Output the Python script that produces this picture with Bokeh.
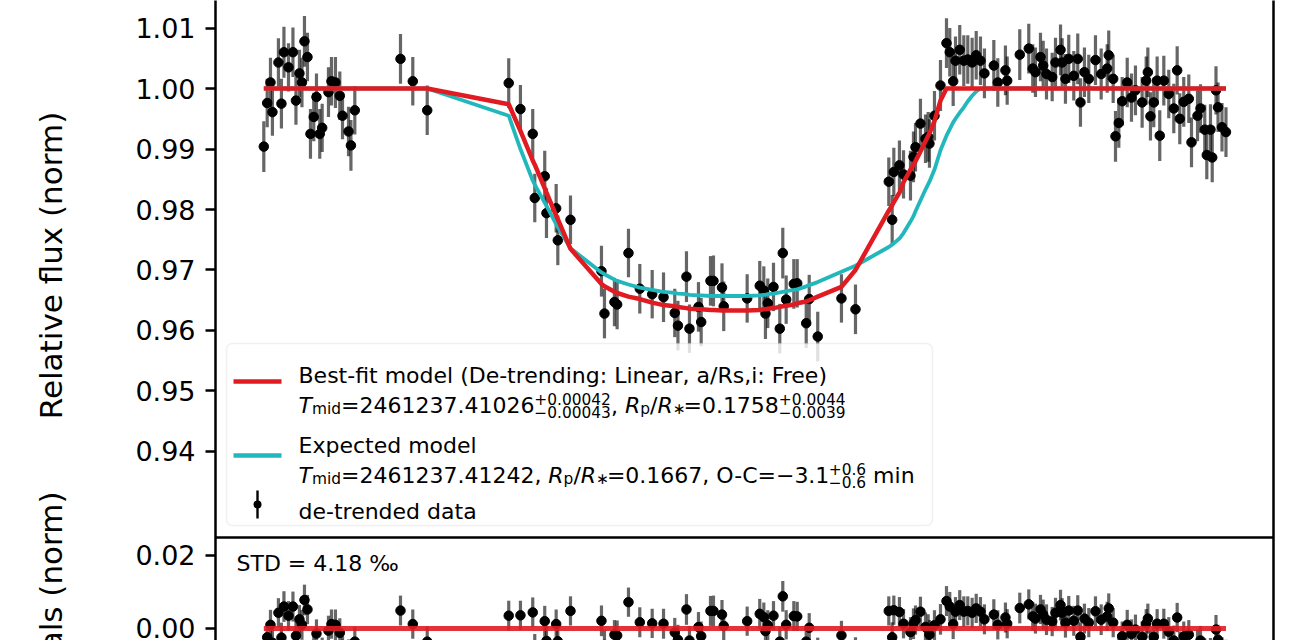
import numpy as np
from bokeh.plotting import figure
from bokeh.layouts import row
from bokeh.models import Range1d, LinearAxis, FixedTicker, Span, Label, BoxAnnotation
from bokeh.core.properties import value
from bokeh.embed import file_html
from bokeh.resources import INLINE

# ---------------- data (time in minutes from best-fit mid-transit) ----------------
time_pre = [-47.07, -46.72, -46.38, -46.18, -45.56, -45.25, -44.99, -44.52, -44.06, -43.75,
            -43.39, -43.13, -42.87, -42.56, -42.25, -41.91, -41.63, -41.29, -41.04, -40.39,
            -40.08, -39.67, -39.22, -38.94, -38.32, -38.07, -37.67, -32.95, -31.68, -30.19]
flux_pre = [0.9904, 0.9976, 1.0010, 0.9961, 1.0043, 0.9975, 1.0060, 1.0035, 1.0060, 0.9980,
            1.0025, 1.0010, 1.0078, 1.0052, 0.9925, 0.9953, 0.9986, 0.9925, 0.9935, 0.9994,
            1.0012, 1.0010, 0.9988, 0.9955, 0.9929, 0.9906, 0.9964, 1.0049, 1.0012, 0.9964]
err_pre = [0.0042, 0.0040, 0.0041, 0.0039, 0.0040, 0.0041, 0.0042, 0.0040, 0.0041, 0.0040,
           0.0039, 0.0041, 0.0042, 0.0040, 0.0041, 0.0040, 0.0039, 0.0041, 0.0040, 0.0041,
           0.0040, 0.0042, 0.0040, 0.0039, 0.0041, 0.0042, 0.0040, 0.0041, 0.0040, 0.0041]

time_tr = [-21.77, -20.56, -19.29, -19.08, -18.05, -17.87, -16.87, -16.70, -15.39, -12.19,
           -11.88, -10.85, -10.57, -9.40, -8.23, -6.95, -5.78, -4.62, -4.29, -3.41,
           -3.10, -2.17, -1.89, -0.93, -0.62, 0.26, 0.44, 2.86, 4.16, 4.58,
           4.75, 4.99, 5.58, 6.23, 6.54, 6.89, 7.68, 8.03, 8.96, 9.27,
           10.15, 12.60, 14.05]
flux_tr = [1.0009, 0.9966, 0.9925, 0.9819, 0.9855, 0.9794, 0.9802, 0.9749, 0.9783, 0.9698,
           0.9628, 0.9647, 0.9643, 0.9728, 0.9669, 0.9660, 0.9655, 0.9629, 0.9608, 0.9689,
           0.9603, 0.9639, 0.9614, 0.9682, 0.9682, 0.9671, 0.9640, 0.9653, 0.9674, 0.9666,
           0.9628, 0.9645, 0.9672, 0.9603, 0.9728, 0.9651, 0.9677, 0.9678, 0.9612, 0.9652,
           0.9590, 0.9653, 0.9635]
err_tr = [0.0041, 0.0040, 0.0041, 0.0040, 0.0042, 0.0041, 0.0040, 0.0041, 0.0040, 0.0042,
          0.0041, 0.0040, 0.0041, 0.0040, 0.0041, 0.0040, 0.0041, 0.0040, 0.0041, 0.0042,
          0.0040, 0.0041, 0.0040, 0.0041, 0.0042, 0.0040, 0.0041, 0.0040, 0.0041, 0.0040,
          0.0042, 0.0041, 0.0040, 0.0041, 0.0042, 0.0040, 0.0041, 0.0040, 0.0041, 0.0040,
          0.0041, 0.0040, 0.0041]
fit_tr = [0.9974, 0.9930, 0.9881, 0.9874, 0.9835, 0.9828, 0.9790, 0.9784, 0.9735, 0.9677,
          0.9673, 0.9664, 0.9662, 0.9656, 0.9652, 0.9646, 0.9642, 0.9640, 0.9639, 0.9637,
          0.9636, 0.9635, 0.9635, 0.9634, 0.9634, 0.9633, 0.9633, 0.9633, 0.9634, 0.9635,
          0.9635, 0.9636, 0.9637, 0.9639, 0.9640, 0.9641, 0.9643, 0.9645, 0.9648, 0.9650,
          0.9656, 0.9672, 0.9700]
exp_tr = [0.9955, 0.9900, 0.9848, 0.9841, 0.9811, 0.9806, 0.9776, 0.9771, 0.9736, 0.9696,
          0.9693, 0.9684, 0.9682, 0.9676, 0.9671, 0.9667, 0.9664, 0.9662, 0.9661, 0.9660,
          0.9659, 0.9658, 0.9658, 0.9657, 0.9657, 0.9657, 0.9657, 0.9657, 0.9658, 0.9659,
          0.9659, 0.9660, 0.9661, 0.9663, 0.9664, 0.9665, 0.9667, 0.9668, 0.9673, 0.9675,
          0.9680, 0.9697, 0.9707]

time_eg = [17.49, 17.84, 18.01, 18.59, 19.01, 19.73, 20.04, 20.25, 20.76, 21.28, 21.56, 21.69, 22.21, 22.83]
flux_eg = [0.9846, 0.9783, 0.9862, 0.9873, 0.9858, 0.9856, 0.9887, 0.9903, 0.9942, 0.9917, 0.9920, 0.9909, 0.9955, 1.0005]
err_eg = [0.0040, 0.0041, 0.0040, 0.0041, 0.0040, 0.0041, 0.0042, 0.0040, 0.0041, 0.0040, 0.0041, 0.0040, 0.0041, 0.0042]
fit_eg = [0.9798, 0.9807, 0.9812, 0.9828, 0.9845, 0.9866, 0.9874, 0.9880, 0.9896, 0.9913, 0.9922, 0.9926, 0.9946, 0.9980]
exp_eg = [0.9738, 0.9742, 0.9744, 0.9752, 0.9761, 0.9780, 0.9789, 0.9797, 0.9815, 0.9833, 0.9842, 0.9846, 0.9866, 0.9898]

time_po = [23.45, 23.79, 24.14, 24.38, 24.82, 25.24, 25.65, 26.10, 26.52]
flux_po = [1.0075, 1.0060, 1.0012, 1.0046, 1.0064, 1.0046, 1.0048, 1.0043, 1.0055]
err_po = [0.0041, 0.0040, 0.0041, 0.0040, 0.0041, 0.0042, 0.0040, 0.0041, 0.0040]
exp_po = [0.9922, 0.9933, 0.9944, 0.9950, 0.9960, 0.9969, 0.9979, 0.9988, 0.9995]

time_out = [26.96, 27.37, 28.34, 28.75, 29.54, 29.72, 31.02, 31.95, 32.36, 32.64,
            33.16, 33.44, 33.78, 34.37, 34.71, 35.23, 35.40, 35.74, 36.08, 36.60,
            37.01, 37.29, 37.70, 38.15, 38.84, 39.43, 40.05, 40.21, 40.67, 40.91,
            41.25, 41.60, 42.12, 42.56, 42.97, 43.66, 44.08, 44.25, 44.52, 44.86,
            45.21, 45.48, 45.90, 46.41, 46.93, 47.28, 47.55, 47.96, 48.48, 48.76,
            49.38, 49.69, 50.13, 50.34, 50.72, 50.90, 51.29, 51.50, 51.91, 52.32]
flux_out = [1.0046, 1.0025, 1.0038, 1.0010, 1.0030, 1.0013, 1.0056, 1.0066, 1.0033, 1.0027,
            1.0052, 1.0038, 1.0024, 1.0019, 1.0043, 1.0064, 1.0043, 1.0016, 1.0049, 1.0021,
            1.0049, 0.9977, 1.0027, 1.0016, 1.0047, 1.0024, 1.0033, 1.0055, 1.0016, 0.9921,
            0.9943, 0.9979, 1.0010, 0.9985, 0.9997, 0.9977, 1.0013, 1.0027, 0.9954, 0.9977,
            1.0013, 0.9922, 1.0013, 0.9991, 0.9967, 1.0030, 0.9950, 0.9978, 0.9983, 0.9911,
            0.9955, 0.9967, 0.9932, 0.9890, 0.9932, 0.9886, 0.9997, 0.9969, 0.9936, 0.9928]
err_out = [0.0040, 0.0041, 0.0042, 0.0040, 0.0041, 0.0040, 0.0042, 0.0041, 0.0040, 0.0041,
           0.0040, 0.0041, 0.0042, 0.0040, 0.0041, 0.0042, 0.0040, 0.0041, 0.0040, 0.0041,
           0.0042, 0.0040, 0.0041, 0.0040, 0.0041, 0.0042, 0.0040, 0.0041, 0.0040, 0.0042,
           0.0041, 0.0040, 0.0041, 0.0040, 0.0041, 0.0042, 0.0040, 0.0041, 0.0040, 0.0041,
           0.0040, 0.0042, 0.0041, 0.0040, 0.0041, 0.0040, 0.0042, 0.0041, 0.0040, 0.0041,
           0.0042, 0.0040, 0.0041, 0.0040, 0.0042, 0.0041, 0.0040, 0.0041, 0.0040, 0.0041]

flux_ticks = [0.94, 0.95, 0.96, 0.97, 0.98, 0.99, 1.00, 1.01]
resid_ticks = [0.00, 0.02]
x_lim = (-52.06, 57.23)
flux_lim = (0.92578, 1.01455)     # flux at bottom / top of upper panel
resid_lim = (-0.00329, 0.0249)    # residual at bottom of window / top of lower panel

# ---------------- assemble ----------------
time_min = np.array(time_pre + time_tr + time_eg + time_po + time_out)
flux = np.array(flux_pre + flux_tr + flux_eg + flux_po + flux_out)
flux_err = np.array(err_pre + err_tr + err_eg + err_po + err_out)
fit_model = np.array([1.0] * len(time_pre) + fit_tr + fit_eg + [1.0] * (len(time_po) + len(time_out)))
exp_model = np.array([1.0] * len(time_pre) + exp_tr + exp_eg + exp_po + [1.0] * len(time_out))
resid = flux - fit_model

# ---------------- layout ----------------
W, H = 1300, 640
WL = 100               # width of the strip that carries the rotated axis titles
FL, FR = 215, 1273     # frame edges in window pixels
SPLIT = 537
RED = "#e01c22"
CYAN = "#22b8bb"
FONT = "DejaVu Sans"

me = flux_lim[1]
ms = me - (flux_lim[1] - flux_lim[0]) * H / SPLIT
rs = resid_lim[0]
re_ = rs + (resid_lim[1] - resid_lim[0]) * H / (H - SPLIT)


def to_main(r):
    return ms + (r - rs) / (re_ - rs) * (me - ms)


p = figure(width=W - WL, height=H, x_range=Range1d(*x_lim), y_range=Range1d(ms, me),
           x_axis_type=None, y_axis_type=None, output_backend="svg", toolbar_location=None,
           min_border_left=FL - WL, min_border_right=W - FR, min_border_top=0, min_border_bottom=0)
p.outline_line_color = None
p.background_fill_color = "white"
p.border_fill_color = "white"
p.extra_y_ranges = {"res": Range1d(rs, re_)}

ticks = flux_ticks + [to_main(r) for r in resid_ticks]
labels = {t: f"{t:.2f}" for t in flux_ticks}
labels.update({to_main(r): f"{r:.2f}" for r in resid_ticks})
ax = LinearAxis(ticker=FixedTicker(ticks=ticks), major_label_overrides=labels)
ax.axis_line_width = 2.5
ax.axis_line_color = "black"
ax.major_tick_line_width = 2.5
ax.major_tick_line_color = "black"
ax.major_tick_out = 10
ax.major_tick_in = 0
ax.minor_tick_out = 0
ax.minor_tick_in = 0
ax.major_label_text_font = FONT
ax.major_label_text_font_size = "27px"
ax.major_label_text_color = "black"
ax.major_label_standoff = 10
p.add_layout(ax, "left")

ax_r = LinearAxis(ticker=FixedTicker(ticks=[]))
ax_r.axis_line_width = 2.5
ax_r.axis_line_color = "black"
ax_r.major_tick_out = 0
ax_r.minor_tick_out = 0
ax_r.major_label_text_font_size = "0px"
p.add_layout(ax_r, "right")

p.add_layout(Span(location=flux_lim[0], dimension="width", line_color="black", line_width=2.5))

# upper panel
p.segment(x0=time_min, y0=flux - flux_err, x1=time_min, y1=flux + flux_err,
          line_color="black", line_alpha=0.6, line_width=3.2)
p.scatter(time_min, flux, size=9.5, color="black")
p.line(time_min, exp_model, line_color=CYAN, line_width=3.8)
p.line(time_min, fit_model, line_color=RED, line_width=4.5)

# lower panel
p.segment(x0=time_min, y0=resid - flux_err, x1=time_min, y1=resid + flux_err,
          line_color="black", line_alpha=0.6, line_width=3.2, y_range_name="res")
p.scatter(time_min, resid, size=9.5, color="black", y_range_name="res")
p.line(time_min, np.zeros(len(time_min)), line_color=RED, line_width=5, line_alpha=0.9,
       y_range_name="res")


# ---------------- annotations ----------------
def sx(cx):
    return cx - FL


def sy(cy):
    return H - cy


def txt(cx, cy, s, size, italic=False):
    lead = len(s) - len(s.lstrip(" "))
    cx += lead * 0.318 * size
    p.add_layout(Label(x=sx(cx), y=sy(cy), x_units="screen", y_units="screen", text=s.strip(" "),
                       text_font=FONT, text_font_size=f"{size}px", text_color="black",
                       text_align="left", text_baseline="alphabetic",
                       text_font_style="italic" if italic else "normal"))


EM = {".": 0.318, ",": 0.318, " ": 0.318, "=": 0.838, "+": 0.838, "\u2212": 0.838, "-": 0.361,
      "/": 0.337, "T": 0.611, "R": 0.695, "O": 0.787, "C": 0.698, "m": 0.974, "i": 0.278,
      "d": 0.635, "p": 0.635, "n": 0.634, "\u2217": 0.7}


def width(s, size):
    return sum(EM.get(ch, 0.636) for ch in s) * size


F, S = 22, 15.4


def math_line(x, base, parts):
    for kind, payload in parts:
        if kind == "n":
            txt(x, base, payload, F)
            x += width(payload, F)
        elif kind == "i":
            txt(x, base, payload, F, italic=True)
            x += width(payload, F)
        elif kind == "sub":
            txt(x, base + 3, payload, S)
            x += width(payload, S)
        else:
            sup, sub = payload
            txt(x, base - 7, sup, S)
            txt(x, base + 6, sub, S)
            x += max(width(sup, S), width(sub, S))


def screen_box(l, r, t, b, **kw):
    p.add_layout(BoxAnnotation(left=sx(l), right=sx(r), top=sy(t), bottom=sy(b),
                               left_units="screen", right_units="screen", top_units="screen",
                               bottom_units="screen", **kw))


# legend frame and handles
screen_box(226, 932, 343, 525, fill_color="white", fill_alpha=0.8,
           line_color="#cccccc", line_width=1.5, border_radius=6)
for yc, col in ((381, RED), (455, CYAN)):
    screen_box(233, 281, yc - 2.2, yc + 2.2, fill_color=col, fill_alpha=1.0, line_color=None)
screen_box(255.8, 258.2, 490, 518, fill_color="black", fill_alpha=1.0, line_color=None)
screen_box(253, 261, 500, 508, fill_color="black", fill_alpha=1.0, line_color=None,
           border_radius=4)

txt(298, 375, "Best-fit model (De-trending: Linear, a/Rs,i: Free)", F)
math_line(298, 405, [("i", "T"), ("sub", "mid"), ("n", "=2461237.41026"),
                     ("ss", ("+0.00042", "\u22120.00043")), ("n", ", "), ("i", "R"), ("sub", "p"),
                     ("n", "/"), ("i", "R"), ("sub", "\u2217"), ("n", "=0.1758"),
                     ("ss", ("+0.0044", "\u22120.0039"))])
txt(298, 445, "Expected model", F)
math_line(298, 475, [("i", "T"), ("sub", "mid"), ("n", "=2461237.41242, "), ("i", "R"), ("sub", "p"),
                     ("n", "/"), ("i", "R"), ("sub", "\u2217"), ("n", "=0.1667, O-C=\u22123.1"),
                     ("ss", ("+0.6", "\u22120.6")), ("n", " min")])
txt(298, 511, "de-trended data", F)

txt(236, 563, "STD = 4.18 \u2030", 22)

# ---------------- strip with rotated axis titles ----------------
lab = figure(width=WL, height=H, x_range=Range1d(0, WL), y_range=Range1d(0, H),
             x_axis_type=None, y_axis_type=None, output_backend="svg", toolbar_location=None,
             min_border_left=0, min_border_right=0, min_border_top=0, min_border_bottom=0)
lab.outline_line_color = None
lab.background_fill_color = "white"
lab.border_fill_color = "white"
axis_titles = ["Relative flux (norm)", "Residuals (norm)"]
title_x = [50, 50]
title_y = [H - 265, H - 622]
lab.text(x=title_x, y=title_y, text=axis_titles, angle=np.pi / 2, text_align="center",
         text_baseline="middle", text_font=value(FONT), text_font_size=value("31px"),
         text_color="black")

layout = row(lab, p, spacing=0)
open("out.html", "w").write(file_html(layout, INLINE))
